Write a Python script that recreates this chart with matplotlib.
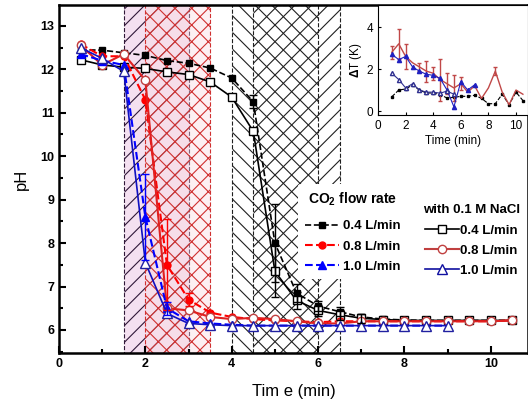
import matplotlib.pyplot as plt
from matplotlib.lines import Line2D
import numpy as np

plt.rcParams['font.family'] = ['Liberation Sans', 'DejaVu Sans']
plt.rcParams['font.weight'] = 'bold'
plt.rcParams['mathtext.fontset'] = 'custom'
plt.rcParams['mathtext.rm'] = 'Liberation Sans:bold'
plt.rcParams['mathtext.bf'] = 'Liberation Sans:bold'
plt.rcParams['hatch.linewidth'] = 0.8

# main plot: pH vs time
t = [0.5, 1, 1.5, 2, 2.5, 3, 3.5, 4, 4.5, 5, 5.5, 6, 6.5, 7, 7.5, 8, 8.5, 9, 9.5, 10, 10.5]
ph_04 = [12.45, 12.44, 12.38, 12.32, 12.2, 12.14, 12.03, 11.8, 11.25, 8.0, 6.85, 6.55, 6.42,
         6.3, 6.25, 6.23, 6.22, 6.22, 6.22, 6.22, 6.22]
ph_04n = [12.22, 12.1, 12.05, 12.02, 11.94, 11.88, 11.71, 11.36, 10.57, 7.35, 6.68, 6.45, 6.35,
          6.27, 6.24, 6.22, 6.22, 6.22, 6.22, 6.22, 6.22]
ph_08 = [12.58, 12.3, 12.3, 11.3, 7.5, 6.7, 6.4, 6.3, 6.25, 6.22, 6.2, 6.18, 6.2,
         6.2, 6.2, 6.2, 6.2, 6.2, 6.2, 6.2, 6.22]
ph_08n = [12.55, 12.1, 12.35, 11.75, 6.5, 6.45, 6.3, 6.25, 6.28, 6.25, 6.2, 6.15, 6.15,
          6.2, 6.2, 6.2, 6.2, 6.2, 6.2, 6.2, 6.22]
ph_10 = [12.35, 12.2, 12.1, 8.6, 6.5, 6.2, 6.15, 6.12, 6.1, 6.1, 6.1, 6.1, 6.1,
         6.1, 6.1, 6.1, 6.1, 6.1]
ph_10n = [12.5, 12.25, 11.95, 7.55, 6.38, 6.15, 6.12, 6.1, 6.1, 6.1, 6.1, 6.1, 6.1,
          6.1, 6.1, 6.1, 6.1, 6.1]
err_04 = [None, None, None, None, None, None, None, None, 0.15, 0.9, 0.2, 0.12, 0.1,
          None, None, None, None, None, None, None, None]
err_04n = [None, None, None, None, None, None, None, None, None, 0.6, 0.2, 0.12, 0.12,
           0.1, None, None, None, None, None, None, None]
err_08 = [None, None, None, None, 1.05, 0.15, None, None, None, None, None, None, None,
          None, None, None, None, None, None, None, None]
err_10 = [None, None, None, 1.0, 0.15, None, None, None, None, None, None, None, None,
          None, None, None, None, None]

# CO2 bubbling windows (start, end)
win_10 = (1.5, 3.0)
win_08 = (2.0, 3.5)
win_04 = (4.0, 6.0)
win_04n = (4.5, 6.5)

# inset: temperature rise
ti = [1, 1.5, 2, 2.5, 3, 3.5, 4, 4.5, 5, 5.5, 6, 6.5, 7, 7.5, 8, 8.5, 9, 9.5, 10, 10.5]
dT_04 = [0.68, 1.0, 1.05, 1.24, 1.0, 0.86, 0.86, 0.78, 0.62, 0.65, 0.7, 0.7, 0.75, 0.6,
         0.35, 0.35, 0.8, 0.3, 0.9, 0.5]
dT_08 = [2.8, 3.2, 2.6, 2.3, 2.1, 1.9, 1.8, 1.5, 1.3, 1.1, 1.3, 0.9, 1.2, 0.6,
         1.1, 1.9, 0.9, 0.3, 1.0, 0.8]
dT_10 = [2.7, 2.45, 2.6, 2.1, 1.9, 1.75, 1.7, 1.55, 1.0, 0.2, 1.4, 1.0, 1.25]
dT_10n = [1.8, 1.5, 1.1, 1.3, 1.0, 0.9, 0.9, 0.85, 0.95, 0.8]
dTerr_08 = [0.3, 0.7, 0.6, None, 0.2, 0.5, 0.3, 1.0, 0.5, 0.6, 0.3, None, None, None,
            None, 0.2, None, None, None, None]

def nz(v):
    return np.array([np.nan if x is None else x for x in v], dtype=float)

fig = plt.figure(figsize=(5.28, 4.07), dpi=100)
ax = fig.add_axes([0.1117, 0.1327, 0.8883, 0.855])

# shaded windows
ax.axvspan(*win_10, facecolor=(0.93, 0.8, 0.9, 0.6), edgecolor='#301838', hatch='//',
           linestyle='--', linewidth=0.8, zorder=0)
ax.axvspan(*win_08, facecolor=(0.98, 0.85, 0.88, 0.4), edgecolor='#d03030', hatch='xx',
           linestyle='--', linewidth=0.8, zorder=0)
ax.axvspan(*win_04, facecolor='none', edgecolor='#202020', hatch='\\\\',
           linestyle='--', linewidth=0.8, zorder=0)
ax.axvspan(*win_04n, facecolor='none', edgecolor='#202020', hatch='//',
           linestyle='--', linewidth=0.8, zorder=0)

n10 = len(ph_10)
ax.plot(t, ph_04, 'k--s', ms=5, lw=1.2, mfc='k', zorder=3)
ax.plot(t, ph_04n, 'k-s', ms=6, lw=1.2, mfc='white', zorder=3)
ax.plot(t, ph_08, '--o', color='#ff0000', ms=5, lw=1.5, mfc='#ff0000', zorder=3)
ax.plot(t, ph_08n, '-o', color='#e02020', ms=6, lw=1.5, mfc='white', mec='#c04040', zorder=3)
ax.plot(t[:n10], ph_10, '--^', color='#0000ff', ms=6, lw=1.5, mfc='#0000ff', zorder=3)
ax.plot(t[:n10], ph_10n, '-^', color='#1010c0', ms=7, lw=1.2, mfc='white', mec='#2020a0', zorder=3)

ax.errorbar(t, ph_04, yerr=nz(err_04), fmt='none', ecolor='k', capsize=3, lw=1, zorder=4)
ax.errorbar(t, ph_04n, yerr=nz(err_04n), fmt='none', ecolor='k', capsize=3, lw=1, zorder=4)
ax.errorbar(t, ph_08, yerr=nz(err_08), fmt='none', ecolor='#ff0000', capsize=3, lw=1, zorder=4)
ax.errorbar(t[:n10], ph_10, yerr=nz(err_10), fmt='none', ecolor='#0000ff', capsize=3, lw=1, zorder=4)

ax.set_xlim(0, 10.86)
ax.set_ylim(5.47, 13.48)
ax.set_xticks([0, 2, 4, 6, 8, 10])
ax.set_xticks([1, 3, 5, 7, 9], minor=True)
ax.set_yticks([6, 7, 8, 9, 10, 11, 12, 13])
ax.set_yticks(np.arange(5.5, 13.5, 1.0), minor=True)
ax.tick_params(which='both', direction='in', width=1.5, labelsize=9)
ax.tick_params(which='major', length=5)
ax.tick_params(which='minor', length=3)
for s in ax.spines.values():
    s.set_linewidth(1.8)
ax.set_xlabel('Tim e (min)', fontsize=12, labelpad=10)
ax.set_ylabel('pH', fontsize=12, labelpad=8)

# legends
h1 = [Line2D([], [], color='k', ls='--', marker='s', ms=5, lw=1.2),
      Line2D([], [], color='#ff0000', ls='--', marker='o', ms=5, lw=1.5),
      Line2D([], [], color='#0000ff', ls='--', marker='^', ms=6, lw=1.5)]
h2 = [Line2D([], [], color='k', ls='-', marker='s', ms=6, mfc='white', lw=1.2),
      Line2D([], [], color='#c04040', ls='-', marker='o', ms=6, mfc='white', lw=1.5),
      Line2D([], [], color='#1010a0', ls='-', marker='^', ms=7, mfc='white', lw=1.2)]
labels = ['0.4 L/min', '0.8 L/min', '1.0 L/min']
leg1 = ax.legend(h1, labels, title='CO$_{2}$ flow rate', loc='upper left',
                 bbox_to_anchor=(0.552, 0.565), bbox_transform=fig.transFigure,
                 fontsize=9.5, title_fontsize=10, frameon=True, framealpha=1,
                 edgecolor='none', handlelength=2.6, handletextpad=0.3,
                 labelspacing=0.6, borderpad=0.5)
leg1._legend_box.align = 'center'
leg1._legend_box.sep = 9
ax.add_artist(leg1)
leg2 = ax.legend(h2, labels, title='with 0.1 M NaCl', loc='upper left',
                 bbox_to_anchor=(0.776, 0.53), bbox_transform=fig.transFigure,
                 fontsize=9.5, title_fontsize=9.5, frameon=False,
                 handlelength=2.6, handletextpad=0.1, labelspacing=0.6, borderpad=0.5)

# inset
ai = fig.add_axes([0.716, 0.7174, 0.284, 0.2703])
ai.plot(ti, dT_04, 'k--s', ms=2, lw=0.8, mfc='k')
ai.plot(ti, dT_08, '-', color='#c04848', lw=1.0)
ai.errorbar(ti, dT_08, yerr=nz(dTerr_08), fmt='none', ecolor='#c04848', lw=1, capsize=1.5)
ai.plot(ti[:len(dT_10)], dT_10, '-^', color='#2020c0', ms=3, lw=0.8)
ai.plot(ti[:len(dT_10n)], dT_10n, '-^', color='#303090', ms=3, lw=0.8, mfc='white')
ai.set_xlim(0, 10.87)
ai.set_ylim(-0.19, 5.05)
ai.set_xticks([0, 2, 4, 6, 8, 10])
ai.set_yticks([0, 2, 4])
ai.tick_params(direction='in', length=2, labelsize=8.5)
for lab in ai.get_xticklabels() + ai.get_yticklabels():
    lab.set_fontweight('normal')
for s in ai.spines.values():
    s.set_linewidth(0.8)
ai.set_xlabel('Time (min)', fontsize=8.5, fontweight='normal', labelpad=2)
ai.set_ylabel(r'$\Delta$T (K)', fontsize=8.5, labelpad=2)

fig.savefig('out.png', dpi=100)
